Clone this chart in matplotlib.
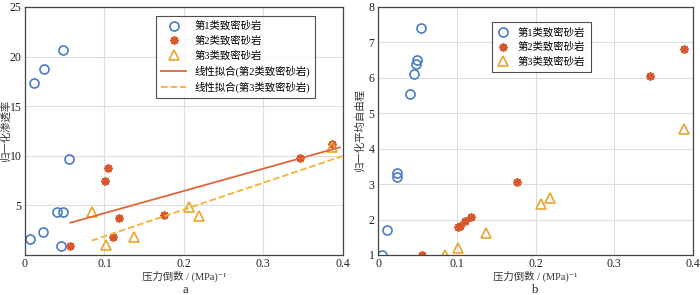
import numpy as np
import matplotlib
matplotlib.use('Agg')
import matplotlib.pyplot as plt

plt.rcParams['font.family'] = ['Liberation Serif', 'Noto Sans CJK SC', 'DejaVu Sans']
plt.rcParams['axes.unicode_minus'] = False

# ---- panel a: normalised permeability
a_c1_x = [0.006, 0.011, 0.023, 0.024, 0.040, 0.045, 0.048, 0.048, 0.055]
a_c1_y = [1.6, 17.3, 2.3, 18.7, 4.3, 0.95, 4.3, 20.7, 9.7]
a_c2_x = [0.057, 0.101, 0.104, 0.111, 0.118, 0.175, 0.346, 0.387]
a_c2_y = [0.95, 7.5, 8.8, 1.8, 3.7, 4.0, 9.8, 11.2]
a_c3_x = [0.084, 0.102, 0.137, 0.206, 0.219, 0.387]
a_c3_y = [4.3, 1.0, 1.8, 4.8, 3.9, 10.9]
fit2_x = [0.057, 0.396]
fit2_y = [3.25, 10.85]
fit3_x = [0.084, 0.399]
fit3_y = [1.45, 9.95]

# ---- panel b: normalised mean free path
b_c1_x = [0.005, 0.012, 0.024, 0.024, 0.040, 0.046, 0.048, 0.049, 0.055]
b_c1_y = [1.0, 1.7, 3.3, 3.2, 5.53, 6.1, 6.4, 6.5, 7.4]
b_c2_x = [0.056, 0.101, 0.104, 0.111, 0.118, 0.176, 0.345, 0.388]
b_c2_y = [1.0, 1.78, 1.82, 1.95, 2.07, 3.07, 6.05, 6.8]
b_c3_x = [0.085, 0.101, 0.137, 0.207, 0.219, 0.388]
b_c3_y = [1.0, 1.2, 1.62, 2.45, 2.6, 4.55]

labels = ['第1类致密砂岩', '第2类致密砂岩', '第3类致密砂岩']
fit_labels = ['线性拟合(第2类致密砂岩)', '线性拟合(第3类致密砂岩)']
x_ticks = [0, 0.1, 0.2, 0.3, 0.4]
x_ticklabels = ['0', '0.1', '0.2', '0.3', '0.4']

blue = '#4a7cc4'
red = '#d8572a'
gold = '#e8a52e'
line_red = '#e0663a'
line_gold = '#f2b233'

fig = plt.figure(figsize=(7, 2.95), dpi=100)
ax1 = fig.add_axes([0.0357, 0.1356, 0.454, 0.841])
ax2 = fig.add_axes([0.540, 0.1356, 0.450, 0.841])


def draw_points(ax, x1, y1, x2, y2, x3, y3):
    ax.plot(x1, y1, 'o', ms=6.5, mfc='none', mec=blue, mew=1.2, ls='none', label=labels[0])
    ax.plot(x2, y2, marker=(8, 2, 0), ms=6, mec=red, mfc=red, mew=1.3, ls='none', label=labels[1])
    ax.plot(x3, y3, '^', ms=7, mfc='none', mec=gold, mew=1.2, ls='none', label=labels[2])


def style(ax):
    ax.grid(True, color='#dddddd', lw=0.8)
    ax.set_axisbelow(True)
    for s in ax.spines.values():
        s.set_color('#444444')
        s.set_linewidth(0.9)
    ax.tick_params(length=0, labelsize=8.5, pad=2.5, colors='#222222')
    ax.set_xlim(0, 0.4)
    ax.set_xticks(x_ticks)
    ax.set_xticklabels(x_ticklabels)
    ax.set_xlabel('压力倒数 / (MPa)⁻¹', fontsize=7.5, labelpad=0, color='#333333')


draw_points(ax1, a_c1_x, a_c1_y, a_c2_x, a_c2_y, a_c3_x, a_c3_y)
ax1.plot(fit2_x, fit2_y, '-', color=line_red, lw=1.3, label=fit_labels[0])
ax1.plot(fit3_x, fit3_y, '--', color=line_gold, lw=1.3, label=fit_labels[1])
ax1.set_ylim(0, 25)
ax1.set_yticks([5, 10, 15, 20, 25])
style(ax1)
ax1.set_ylabel('归一化渗透率', fontsize=7.5, color='#333333')
ax1.yaxis.set_label_coords(-0.046, 0.5)
leg = ax1.legend(loc='upper right', bbox_to_anchor=(0.93, 0.985), fontsize=7.5,
                 frameon=True, fancybox=False, edgecolor='#222222', handlelength=2.4,
                 borderpad=0.5, labelspacing=0.45)
leg.get_frame().set_linewidth(0.8)

draw_points(ax2, b_c1_x, b_c1_y, b_c2_x, b_c2_y, b_c3_x, b_c3_y)
ax2.set_ylim(1, 8)
ax2.set_yticks([1, 2, 3, 4, 5, 6, 7, 8])
style(ax2)
ax2.set_ylabel('归一化平均自由程', fontsize=7.5, color='#333333')
ax2.yaxis.set_label_coords(-0.042, 0.5)
leg2 = ax2.legend(loc='upper left', bbox_to_anchor=(0.345, 0.96), fontsize=7.5,
                  frameon=True, fancybox=False, edgecolor='#222222', handlelength=1.2,
                  borderpad=0.5, labelspacing=0.45)
leg2.get_frame().set_linewidth(0.8)

fig.text(0.265, 0.008, 'a', fontsize=9, ha='center', va='baseline', color='#222222')
fig.text(0.765, 0.008, 'b', fontsize=9, ha='center', va='baseline', color='#222222')

fig.savefig('out.png', dpi=100)
